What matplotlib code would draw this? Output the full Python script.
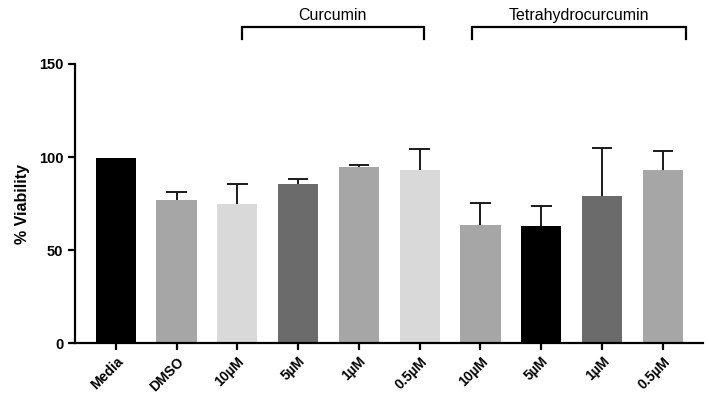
import matplotlib
matplotlib.use("Agg")
import matplotlib.pyplot as plt
import matplotlib.transforms as mtransforms
import numpy as np

categories = ["Media", "DMSO", "10µM", "5µM", "1µM", "0.5µM", "10µM", "5µM", "1µM", "0.5µM"]
means = [99.5, 76.8, 75.0, 85.3, 94.8, 92.8, 63.4, 63.2, 79.3, 92.8]
errors = [0.0, 4.4, 10.3, 3.1, 1.1, 11.6, 12.1, 10.3, 25.7, 10.7]
colors = ["#000000", "#a6a6a6", "#d9d9d9", "#6b6b6b", "#a6a6a6",
          "#d9d9d9", "#a6a6a6", "#000000", "#6b6b6b", "#a6a6a6"]
yticks = [0, 50, 100, 150]
groups = [("Curcumin", 2.07, 5.07), ("Tetrahydrocurcumin", 5.86, 9.38)]

plt.rcParams['font.family'] = ['Liberation Sans', 'DejaVu Sans']

fig = plt.figure(figsize=(7.09, 3.96), dpi=100)
ax = fig.add_axes([0.1058, 0.1331, 0.8857, 0.7053])

x = np.arange(len(categories))
ax.bar(x, means, width=0.66, color=colors, zorder=2)
means_a = np.array(means)
err_a = np.array(errors)
top = means_a + err_a
has = err_a > 0
ax.vlines(x[has], means_a[has], top[has], color='#1a1a1a', lw=1.4, zorder=1)
ax.hlines(top[has], x[has] - 0.17, x[has] + 0.17, color='#1a1a1a', lw=1.4, zorder=1)

ax.set_xlim(-0.67, 9.66)
ax.set_ylim(0, 150)
ax.set_yticks(yticks)
ax.set_yticklabels([str(v) for v in yticks], fontsize=10.5, fontweight='bold')
ax.set_xticks(x)
ax.set_xticklabels(categories, rotation=45, ha='right', rotation_mode='anchor',
                   fontsize=10, fontweight='bold')
offset = mtransforms.ScaledTranslation(4 / 72, 0, fig.dpi_scale_trans)
for lbl in ax.get_xticklabels():
    lbl.set_transform(lbl.get_transform() + offset)
ax.set_ylabel("% Viability", fontsize=11.5, fontweight='bold', labelpad=6)

for s in ['top', 'right']:
    ax.spines[s].set_visible(False)
for s in ['left', 'bottom']:
    ax.spines[s].set_linewidth(1.6)
ax.tick_params(axis='both', width=1.6, length=5, direction='out')
ax.tick_params(axis='x', pad=3)

for name, x0, x1 in groups:
    ax.plot([x0, x0, x1, x1], [163.5, 169.6, 169.6, 163.5], color='black',
            lw=1.6, clip_on=False, solid_joinstyle='miter')
    ax.text((x0 + x1) / 2, 172, name, ha='center', va='bottom', fontsize=11.5)

fig.savefig("out.png", dpi=100)
